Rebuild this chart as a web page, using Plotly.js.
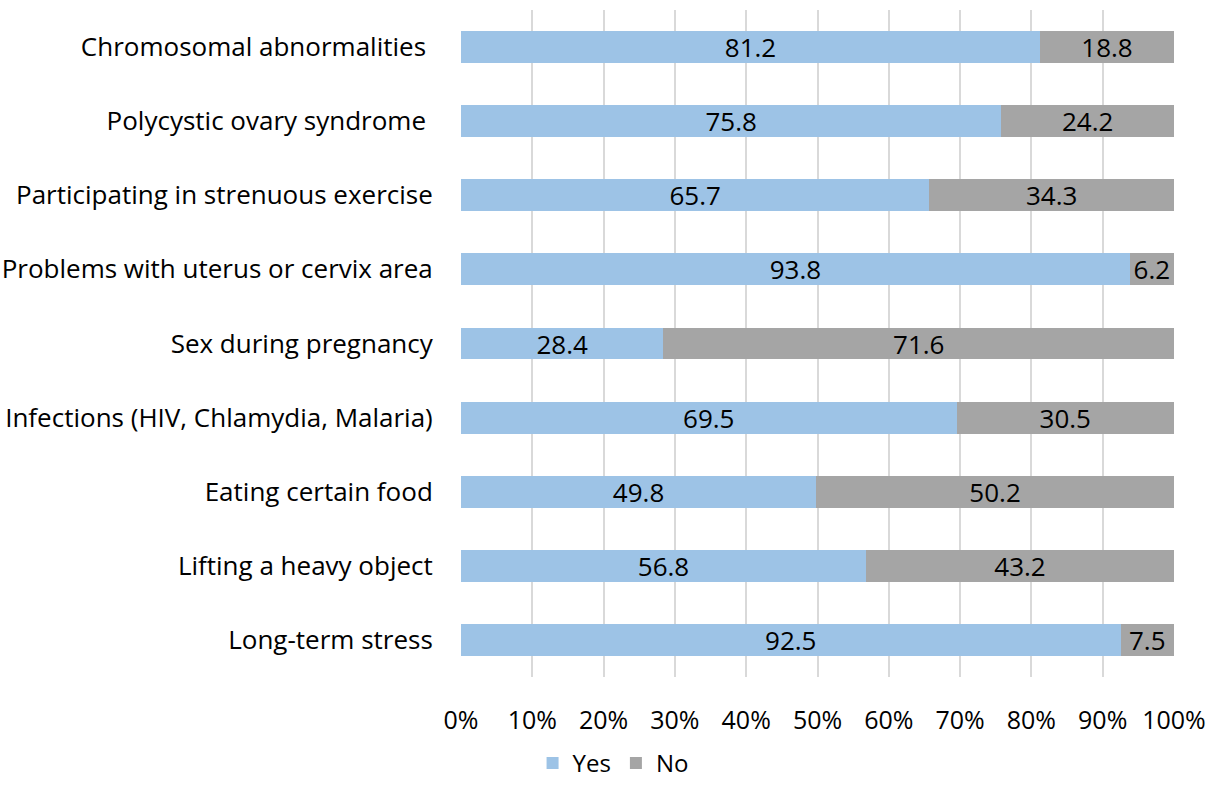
<!DOCTYPE html>
<html><head><meta charset="utf-8">
<script src="https://cdn.plot.ly/plotly-3.0.1.min.js"></script>
<style>body{margin:0;background:#fff}#c{width:1214px;height:786px}</style>
</head><body><div id="c"></div>
<script>
const categories = ["Chromosomal abnormalities ","Polycystic ovary syndrome ","Participating in strenuous exercise","Problems with uterus or cervix area","Sex during pregnancy","Infections (HIV, Chlamydia, Malaria)","Eating certain food","Lifting a heavy object","Long-term stress"];
const yesValues = [81.2,75.8,65.7,93.8,28.4,69.5,49.8,56.8,92.5];
const noValues = [18.8,24.2,34.3,6.2,71.6,30.5,50.2,43.2,7.5];
const font = {family:"'Open Sans', sans-serif", size:26, color:"#000"};
const common = {type:"bar", orientation:"h", y:categories, width:0.43, textposition:"inside", insidetextanchor:"middle", constraintext:"none", textfont:font, insidetextfont:font, cliponaxis:false, hoverinfo:"skip"};
const data = [
 Object.assign({}, common, {name:"Yes", x:yesValues, text:yesValues.map(v=>v.toFixed(1)), marker:{color:"#9DC3E6"}}),
 Object.assign({}, common, {name:"No", x:noValues, text:noValues.map(v=>v.toFixed(1)), marker:{color:"#A5A5A5"}})
];
const layout = {
 barmode:"stack", width:1214, height:786, font:font,
 paper_bgcolor:"#fff", plot_bgcolor:"#fff",
 margin:{l:461,r:40,t:10,b:109},
 xaxis:{range:[0,100], dtick:10, ticksuffix:"%", showgrid:true, gridcolor:"#D9D9D9", gridwidth:2, zeroline:false, showline:false, ticks:"outside", ticklen:21, tickcolor:"rgba(0,0,0,0)", fixedrange:true, tickfont:{family:"'Open Sans', sans-serif", size:25, color:"#000"}},
 yaxis:{autorange:"reversed", showgrid:false, ticks:"outside", ticklen:22, tickcolor:"rgba(0,0,0,0)", zeroline:false},
 showlegend:true,
 legend:{orientation:"h", xref:"container", x:0.505, xanchor:"center", yref:"container", y:0, yanchor:"bottom", font:{family:"'Open Sans', sans-serif", size:24, color:"#000"}, itemwidth:30, traceorder:"normal"},
};
Plotly.newPlot("c", data, layout, {displayModeBar:false, staticPlot:true});
</script></body></html>
